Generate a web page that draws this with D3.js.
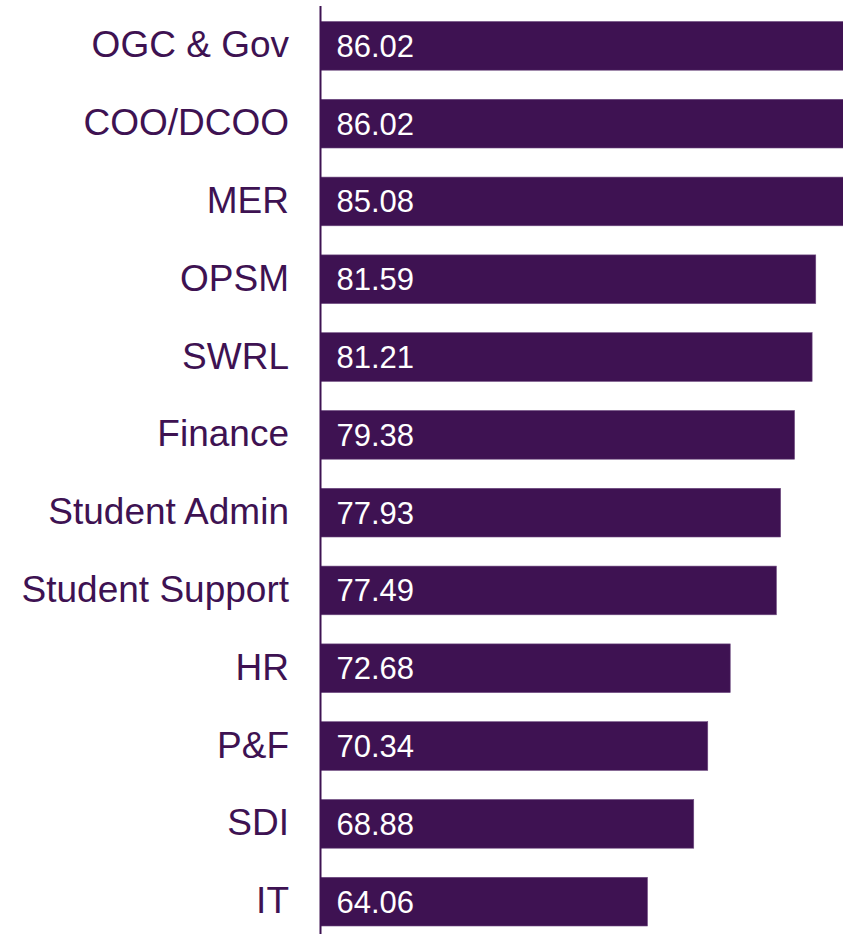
<!DOCTYPE html>
<html>
<head>
<meta charset="utf-8">
<script src="https://cdn.jsdelivr.net/npm/d3@7"></script>
<style>
  html, body { margin: 0; padding: 0; background: #ffffff; }
  svg { display: block; }
</style>
</head>
<body>
<div id="chart"></div>
<script>
const categories = ["OGC & Gov", "COO/DCOO", "MER", "OPSM", "SWRL", "Finance", "Student Admin", "Student Support", "HR", "P&F", "SDI", "IT"];
const values = [86.02, 86.02, 85.08, 81.59, 81.21, 79.38, 77.93, 77.49, 72.68, 70.34, 68.88, 64.06];
const valueLabels = ["86.02", "86.02", "85.08", "81.59", "81.21", "79.38", "77.93", "77.49", "72.68", "70.34", "68.88", "64.06"];

const W = 843, H = 934;
const purple = "#3e1252";
const axisX = 320.5;

const svg = d3.select("#chart").append("svg")
  .attr("width", W).attr("height", H)
  .style("overflow", "hidden");

const x = d3.scaleLinear().domain([30, 90]).range([axisX, axisX + 60 * 9.6]);
const y = d3.scaleBand().domain(categories).range([6.95, 940.55])
  .paddingInner(0.374).paddingOuter(0.187);

const data = categories.map((c, i) => ({ c, v: values[i], t: valueLabels[i] }));

svg.selectAll("rect.bar").data(data).enter().append("rect")
  .attr("class", "bar")
  .attr("x", axisX)
  .attr("y", d => y(d.c))
  .attr("width", d => x(d.v) - axisX)
  .attr("height", y.bandwidth())
  .attr("fill", purple)
  .attr("stroke", "#6e4a80")
  .attr("stroke-width", 0.6);

svg.selectAll("text.val").data(data).enter().append("text")
  .attr("class", "val")
  .attr("x", axisX + 16)
  .attr("y", d => y(d.c) + y.bandwidth() / 2 + 11)
  .attr("font-family", "Liberation Sans, Arial, sans-serif")
  .attr("font-size", 31)
  .attr("fill", "#ffffff")
  .text(d => d.t);

svg.selectAll("text.cat").data(data).enter().append("text")
  .attr("class", "cat")
  .attr("x", 289)
  .attr("y", d => y(d.c) + y.bandwidth() / 2 + 11.5)
  .attr("text-anchor", "end")
  .attr("font-family", "Liberation Sans, Arial, sans-serif")
  .attr("font-size", 37)
  .attr("fill", purple)
  .text(d => d.c);

svg.append("line")
  .attr("x1", axisX).attr("x2", axisX)
  .attr("y1", 6).attr("y2", H)
  .attr("stroke", purple)
  .attr("stroke-width", 2);
</script>
</body>
</html>
